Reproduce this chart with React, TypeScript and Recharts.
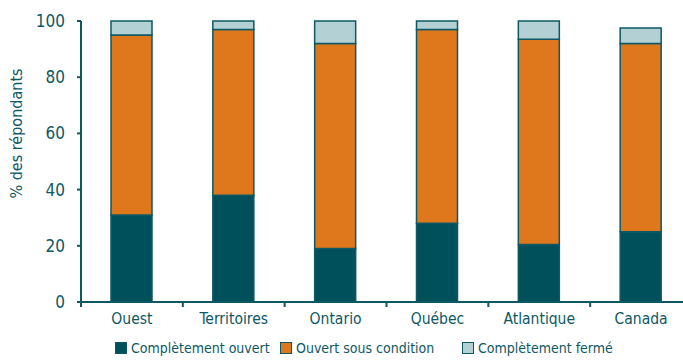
import { BarChart, Bar, XAxis, YAxis, Legend } from 'recharts';

const regions = ['Ouest', 'Territoires', 'Ontario', 'Québec', 'Atlantique', 'Canada'];
const ouvert = [31, 38, 19, 28, 20.5, 25];
const sousCondition = [64, 59, 73, 69, 73, 67];
const ferme = [5, 3, 8, 3, 6.5, 5.5];
const yTicks = [0, 20, 40, 60, 80, 100];

const series = [
  { key: 'ouvert', name: 'Complètement ouvert', color: '#00505C' },
  { key: 'condition', name: 'Ouvert sous condition', color: '#DF781C' },
  { key: 'ferme', name: 'Complètement fermé', color: '#B3D0D5' },
];

const data = regions.map((region, i) => ({
  region,
  ouvert: ouvert[i],
  condition: sousCondition[i],
  ferme: ferme[i],
}));

const teal = '#0E5864';
const font = '"DejaVu Sans Condensed", "Liberation Sans Narrow", "Roboto", sans-serif';

// label + boundary tick marks between categories
const CategoryTick = (props) => {
  const { x, y, payload, index } = props;
  const half = payload && payload.offset ? payload.offset : 51;
  return (
    <g>
      <line x1={x - half} x2={x - half} y1={y} y2={y + 5} stroke={teal} strokeWidth={2} />
      {index === regions.length - 1 && (
        <line x1={x + half} x2={x + half} y1={y} y2={y + 5} stroke={teal} strokeWidth={2} />
      )}
      <text x={x} y={y + 22} textAnchor="middle" fill={teal} fontSize={15.5} fontFamily={font}>
        {payload.value}
      </text>
    </g>
  );
};

const LegendContent = () => {
  const lefts = [115, 280, 462];
  return (
    <div style={{ position: 'relative', height: 20, width: 683, fontFamily: font }}>
      {series.map((s, i) => (
        <div key={s.key} style={{ position: 'absolute', left: lefts[i], top: 0, display: 'flex', alignItems: 'center' }}>
          <span style={{ width: 10, height: 10, background: s.color, border: `1.5px solid ${teal}`, marginRight: 4 }} />
          <span style={{ color: teal, fontSize: 14 }}>{s.name}</span>
        </div>
      ))}
    </div>
  );
};

const App = () => {
  return (
    <div style={{ position: 'absolute', left: 0, top: 0, width: 683, height: 360, overflow: 'hidden', background: '#fff' }}>
      <BarChart width={700} height={360} data={data} margin={{ top: 21, right: 8, left: 0, bottom: 0 }}>
        <XAxis
          dataKey="region"
          height={58}
          stroke={teal}
          strokeWidth={2}
          tickLine={false}
          tickSize={0}
          tickMargin={0}
          tick={<CategoryTick />}
          interval={0}
        />
        <YAxis
          width={81}
          domain={[0, 100]}
          ticks={yTicks}
          stroke={teal}
          strokeWidth={2}
          tickSize={4}
          tickMargin={12}
          tick={{ fill: teal, fontSize: 17, fontFamily: font }}
          label={({ viewBox }) => (
            <text
              transform={`translate(${viewBox.x + 22}, ${viewBox.y + viewBox.height / 2 - 28}) rotate(-90)`}
              textAnchor="middle"
              fill={teal}
              fontSize={16}
              fontFamily={font}
            >
              % des répondants
            </text>
          )}
        />
        <Legend
          verticalAlign="middle"
          layout="horizontal"
          content={<LegendContent />}
          wrapperStyle={{ position: 'absolute', top: 340, left: 0, width: 683 }}
        />
        {series.map((s) => (
          <Bar
            key={s.key}
            dataKey={s.key}
            name={s.name}
            stackId="a"
            fill={s.color}
            stroke={teal}
            strokeWidth={1.5}
            barSize={41}
            isAnimationActive={false}
          />
        ))}
      </BarChart>
    </div>
  );
};

export default App;
